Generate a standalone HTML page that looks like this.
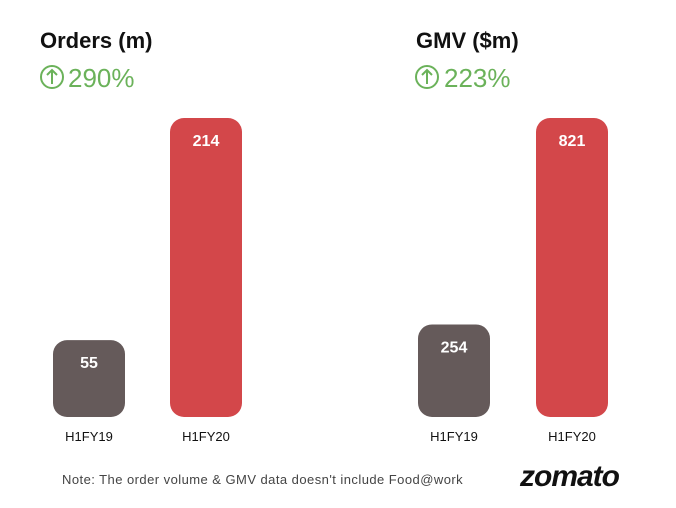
<!DOCTYPE html>
<html><head><meta charset="utf-8"><style>
html,body{margin:0;padding:0;background:#fff;}
svg{display:block;font-family:"Liberation Sans",sans-serif;}
</style></head><body>
<svg id="c" width="676" height="508">
<text x="40" y="48" font-size="22" font-weight="bold" fill="#111">Orders (m)</text>
<g>
<circle cx="52" cy="77" r="11" fill="none" stroke="#6bb25a" stroke-width="2"/>
<path d="M52 84 V70 M47 75 L52 70 L57 75" fill="none" stroke="#6bb25a" stroke-width="2"/>
<text x="68" y="87" font-size="26" fill="#6bb25a">290%</text>
</g>
<text x="416" y="48" font-size="22" font-weight="bold" fill="#111">GMV ($m)</text>
<g>
<circle cx="427" cy="77" r="11" fill="none" stroke="#6bb25a" stroke-width="2"/>
<path d="M427 84 V70 M422 75 L427 70 L432 75" fill="none" stroke="#6bb25a" stroke-width="2"/>
<text x="444" y="87" font-size="26" fill="#6bb25a">223%</text>
</g>
<text x="62" y="484" font-size="13" letter-spacing="0.45" fill="#444">Note: The order volume &amp; GMV data doesn't include Food@work</text>
<text x="520" y="486" font-size="30" font-weight="bold" font-style="italic" letter-spacing="-1" fill="#111">zomato</text>
</svg>
<script>
const categories = ["H1FY19", "H1FY20"];
const ordersValues = [55, 214];
const gmvValues = [254, 821];
const colors = ["#655a5a", "#d3474a"];
const svg = document.getElementById('c');
const NS = 'http://www.w3.org/2000/svg';
const base = 417, topY = 118;
function drawChart(vals, xs, name) {
  const max = Math.max(...vals);
  const y = v => base - (v / max) * (base - topY);
  vals.forEach((v, i) => {
    const r = document.createElementNS(NS, 'rect');
    
    
    r.setAttribute('x', xs[i]); r.setAttribute('width', 72);
    r.setAttribute('y', y(v)); r.setAttribute('height', base - y(v));
    r.setAttribute('rx', 14); r.setAttribute('fill', colors[i]);
    svg.appendChild(r);
    const t = document.createElementNS(NS, 'text');
    
    
    t.setAttribute('x', xs[i] + 36); t.setAttribute('y', y(v) + 28);
    t.setAttribute('text-anchor', 'middle'); t.setAttribute('font-size', 16);
    t.setAttribute('font-weight', 'bold'); t.setAttribute('fill', '#fff');
    t.textContent = v; svg.appendChild(t);
    const l = document.createElementNS(NS, 'text');
    
    
    l.setAttribute('x', xs[i] + 36); l.setAttribute('y', 441);
    l.setAttribute('text-anchor', 'middle'); l.setAttribute('font-size', 13);
    l.setAttribute('fill', '#111');
    l.textContent = categories[i]; svg.appendChild(l);
  });
}
drawChart(ordersValues, [53, 170], 'orders');
drawChart(gmvValues, [418, 536], 'gmv');
</script>
</body></html>
